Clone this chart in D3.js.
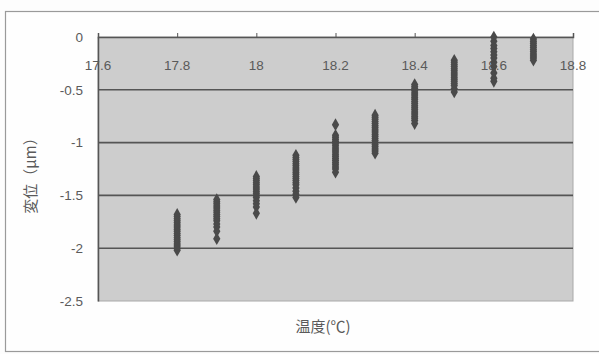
<!DOCTYPE html>
<html>
<head>
<meta charset="utf-8">
<script src="https://cdn.jsdelivr.net/npm/d3@7"></script>
<style>
  html, body { margin: 0; padding: 0; background: #fdfdfd; }
  svg { display: block; }
  text { font-family: "Liberation Sans", Arial, sans-serif; fill: #5a5a5a; }
</style>
</head>
<body>
<svg id="chart" width="599" height="354"></svg>
<script>
// Temperature steps (°C) at which displacement was recorded
const temps = [17.8, 17.9, 18.0, 18.1, 18.2, 18.3, 18.4, 18.5, 18.6, 18.7];

// Displacement readings (µm) for each temperature step
const disp178 = [-1.68, -1.70, -1.72, -1.74, -1.76, -1.78, -1.80, -1.82, -1.84, -1.86, -1.88, -1.90, -1.92, -1.94, -1.96, -1.98, -2.00, -2.02];
const disp179 = [-1.54, -1.56, -1.58, -1.60, -1.62, -1.64, -1.66, -1.68, -1.70, -1.72, -1.74, -1.77, -1.80, -1.84, -1.91];
const disp180 = [-1.32, -1.34, -1.36, -1.38, -1.40, -1.42, -1.44, -1.46, -1.48, -1.50, -1.52, -1.55, -1.58, -1.61, -1.67];
const disp181 = [-1.12, -1.14, -1.16, -1.18, -1.20, -1.22, -1.24, -1.26, -1.28, -1.30, -1.32, -1.34, -1.36, -1.38, -1.40, -1.43, -1.46, -1.49, -1.52];
const disp182 = [-0.83, -0.93, -0.95, -0.97, -0.99, -1.01, -1.03, -1.05, -1.07, -1.09, -1.11, -1.13, -1.15, -1.17, -1.19, -1.21, -1.23, -1.25, -1.28];
const disp183 = [-0.74, -0.76, -0.78, -0.80, -0.82, -0.84, -0.86, -0.88, -0.90, -0.92, -0.94, -0.96, -0.98, -1.00, -1.02, -1.04, -1.06, -1.08, -1.10];
const disp184 = [-0.45, -0.47, -0.49, -0.51, -0.53, -0.55, -0.57, -0.59, -0.61, -0.63, -0.65, -0.67, -0.69, -0.71, -0.73, -0.75, -0.77, -0.79, -0.82];
const disp185 = [-0.22, -0.24, -0.26, -0.28, -0.30, -0.32, -0.34, -0.36, -0.38, -0.40, -0.42, -0.44, -0.46, -0.49, -0.52];
const disp186 = [0.00, -0.04, -0.08, -0.11, -0.14, -0.17, -0.20, -0.24, -0.28, -0.34, -0.39, -0.42];
const disp187 = [-0.02, -0.04, -0.06, -0.08, -0.10, -0.12, -0.14, -0.16, -0.18, -0.20, -0.22];
const displacements = [disp178, disp179, disp180, disp181, disp182, disp183, disp184, disp185, disp186, disp187];

// Axis ticks
const xTicks = [17.6, 17.8, 18.0, 18.2, 18.4, 18.6, 18.8];
const xTickLabels = ["17.6", "17.8", "18", "18.2", "18.4", "18.6", "18.8"];
const yTicks = [0, -0.5, -1, -1.5, -2, -2.5];
const yTickLabels = ["0", "-0.5", "-1", "-1.5", "-2", "-2.5"];

const svg = d3.select("#chart");

// outer chart frame
svg.append("rect")
  .attr("x", 5.5).attr("y", 11.5)
  .attr("width", 610).attr("height", 340)
  .attr("fill", "#fefefe")
  .attr("stroke", "#9a9a9a").attr("stroke-width", 1.2);

const plot = { left: 98, top: 37, right: 573, bottom: 301 };

const x = d3.scaleLinear().domain([17.6, 18.8]).range([plot.left, plot.right]);
const y = d3.scaleLinear().domain([0, -2.5]).range([plot.top, plot.bottom]);

// plot area background
svg.append("rect")
  .attr("x", plot.left).attr("y", plot.top)
  .attr("width", plot.right - plot.left).attr("height", plot.bottom - plot.top)
  .attr("fill", "#cdcdcd")
  .attr("stroke", "#a8a8a8").attr("stroke-width", 1);

// horizontal gridlines
svg.append("g")
  .selectAll("line")
  .data(yTicks.filter(v => v !== 0 && v !== -2.5))
  .join("line")
  .attr("x1", plot.left).attr("x2", plot.right)
  .attr("y1", d => y(d)).attr("y2", d => y(d))
  .attr("stroke", "#555").attr("stroke-width", 1.6);

// y axis
const yAxis = d3.axisLeft(y)
  .tickValues(yTicks)
  .tickFormat((d, i) => yTickLabels[i])
  .tickSize(0)
  .tickPadding(15);
const gy = svg.append("g").attr("transform", `translate(${plot.left},0)`).call(yAxis);
gy.select(".domain").attr("stroke", "#555").attr("stroke-width", 1.5);
gy.selectAll("text").attr("font-size", 13.5).attr("fill", "#5a5a5a")
  .style("font-family", "'Liberation Sans', Arial, sans-serif");

// x axis sits at y = 0 with ticks pointing up, labels below the line
const xAxis = d3.axisTop(x)
  .tickValues(xTicks)
  .tickFormat("")
  .tickSize(4);
const gx = svg.append("g").attr("transform", `translate(0,${y(0)})`).call(xAxis);
gx.select(".domain").attr("stroke", "#555").attr("stroke-width", 1.5);
gx.selectAll("line").attr("stroke", "#555");

svg.append("g")
  .selectAll("text")
  .data(xTicks)
  .join("text")
  .attr("x", d => x(d))
  .attr("y", y(0) + 33)
  .attr("text-anchor", "middle")
  .attr("font-size", 13.5)
  .text((d, i) => xTickLabels[i]);

// data points: diamond markers
const diamond = d3.symbol().type(d3.symbolDiamond).size(46);
const pts = temps.flatMap((t, i) => displacements[i].map(v => ({ t, v })));
svg.append("g")
  .selectAll("path")
  .data(pts)
  .join("path")
  .attr("d", diamond)
  .attr("transform", d => `translate(${x(d.t)},${y(d.v)})`)
  .attr("fill", "#4a4a4a");

// axis titles
svg.append("text")
  .attr("transform", `translate(36,172) rotate(-90)`)
  .attr("text-anchor", "middle")
  .attr("font-size", 15)
  .style("font-family", "'Noto Sans CJK JP', sans-serif")
  .text("変位（μm）");

svg.append("text")
  .attr("x", 323).attr("y", 332)
  .attr("text-anchor", "middle")
  .attr("font-size", 15)
  .style("font-family", "'Noto Sans CJK JP', sans-serif")
  .text("温度(℃)");
</script>
</body>
</html>
